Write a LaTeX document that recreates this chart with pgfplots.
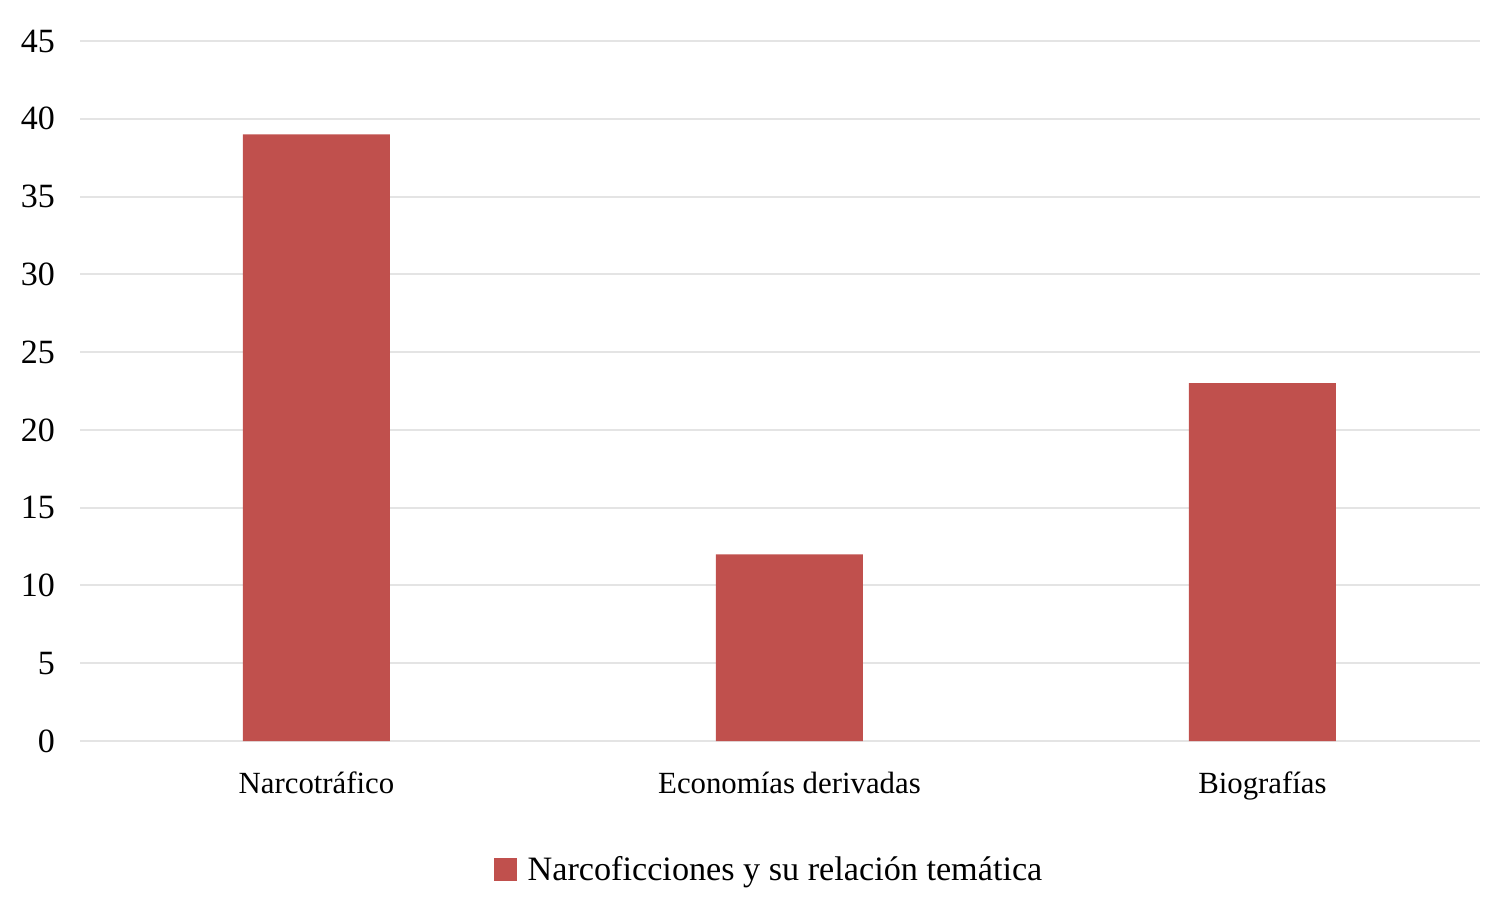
\documentclass[border=0pt]{standalone}
\usepackage{fontspec}
\setmainfont{Liberation Serif}
\usepackage{pgfplots}
\pgfplotsset{compat=1.18}
\definecolor{barred}{HTML}{C0504D}
\definecolor{gridgray}{HTML}{E4E4E4}
\begin{document}
\begin{tikzpicture}
\useasboundingbox (-40pt,-81.5pt) rectangle (706.5pt,370.5pt);
\begin{axis}[
  at={(0,0)}, anchor=south west,
  scale only axis,
  width=700pt, height=350pt,
  ymin=0, ymax=45, ytick={0,5,...,45},
  xmin=-0.5, xmax=2.46,
  xtick={0,1,2},
  xticklabels={Narcotráfico, Economías derivadas, Biografías},
  ybar, bar width=73.5pt,
  axis line style={draw=none},
  major tick length=0pt,
  ymajorgrids, grid style={gridgray, line width=1pt},
  /pgf/number format/assume math mode=true,
  yticklabel style={font=\fontsize{17}{20}\selectfont, anchor=east, xshift=-9pt},
  xticklabel style={font=\fontsize{15.4}{18}\selectfont, yshift=-12pt},
  legend style={draw=none, at={(0.5,-0.184)}, anchor=center, xshift=-5pt, font=\fontsize{17.1}{20}\selectfont, legend columns=1},
  legend image code/.code={\fill[barred] (0pt,-5.75pt) rectangle (11.5pt,5.75pt); \path (15pt,0pt);},
]
\addplot[fill=barred, draw=none] coordinates {(0,39) (1,12) (2,23)};
\addlegendentry{Narcoficciones y su relación temática}
\end{axis}
\end{tikzpicture}
\end{document}
